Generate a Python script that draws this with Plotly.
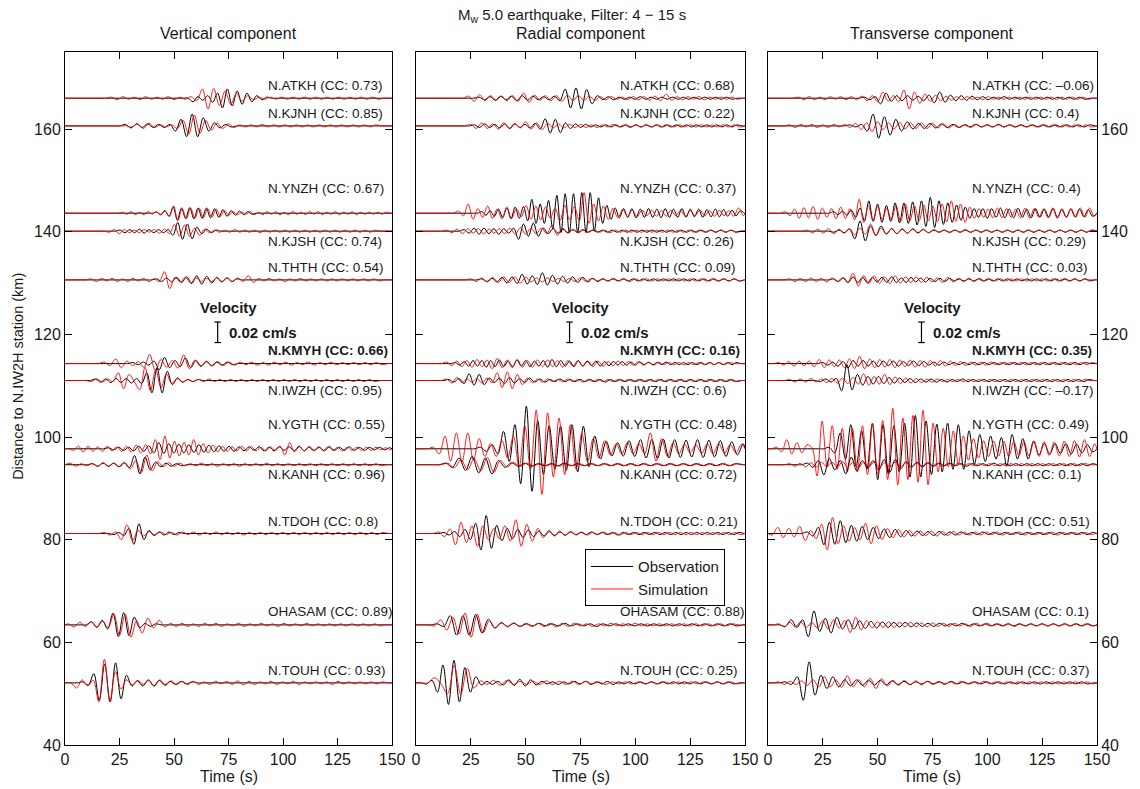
import plotly.graph_objects as go

# ---------------- data ----------------
STATIONS = ["N.ATKH", "N.KJNH", "N.YNZH", "N.KJSH", "N.THTH", "N.KMYH",
            "N.IWZH", "N.YGTH", "N.KANH", "N.TDOH", "OHASAM", "N.TOUH"]
DISTANCE_KM = [166.0, 160.6, 143.6, 140.1, 130.6, 114.3, 111.0, 97.7, 94.6, 81.2, 63.4, 52.1]
LABEL_Y = [168.4, 163.0, 148.5, 138.0, 133.0, 116.8, 109.0, 102.5, 92.7, 83.5, 66.0, 54.6]
BOLD_STATION = "N.KMYH"
CC_VERTICAL = ["0.73", "0.85", "0.67", "0.74", "0.54", "0.66", "0.95", "0.55", "0.96", "0.8", "0.89", "0.93"]
CC_RADIAL = ["0.68", "0.22", "0.37", "0.26", "0.09", "0.16", "0.6", "0.48", "0.72", "0.21", "0.88", "0.25"]
CC_TRANSVERSE = ["–0.06", "0.4", "0.4", "0.29", "0.03", "0.35", "–0.17", "0.49", "0.1", "0.51", "0.1", "0.37"]
COMPONENTS = ["Vertical component", "Radial component", "Transverse component"]
TIME_TICKS = [0, 25, 50, 75, 100, 125, 150]
DIST_TICKS = [40, 60, 80, 100, 120, 140, 160]
LABEL_TIME = 92
BAR_TIME, BAR_LOW, BAR_HIGH, BAR_CAP = 70, 118.4, 122.4, 1.5
VEL_TEXT_TIME, VEL_TEXT_Y, SCALE_TEXT_TIME, SCALE_TEXT_Y = 75, 125.3, 74.5, 120.3

# Each waveform: (time of first read extremum [s], spacing of extrema [s], extremum offsets [km units])
VERT_OBS = [
    (58.7, 2.25, [-0.7,0.3,-0.4,0.5,-0.8,1.0,-1.9,1.8,-1.5,1.4,-1.2,1.0,-0.7,0.5,-0.3,0.2]),
    (27.7, 2.55, [0.3,-0.4,0.4,-0.3,0.4,-0.3,0.3,-0.3,0.3,-1.0,1.3,-2.1,2.3,-2.1,1.6,-1.0,0.6,-0.4,0.3,-0.2]),
    (42.0, 1.9, [0.2,-0.3,0.5,-0.6,1.2,-1.3,1.0,-1.0,1.1,-1.1,1.0,-1.0,1.0,-0.9,0.9,-0.8,0.7,-0.6,0.5,-0.4,0.4,-0.3,0.3,-0.2]),
    (25.3, 2.2, [0.2,-0.3,0.3,-0.3,0.4,-0.4,0.3,-0.3,0.3,-0.3,0.3,-0.8,1.7,-1.6,1.4,-1.5,0.8,-0.5,0.4,-0.3,0.2]),
    (42.0, 2.3, [0.2,-0.3,0.4,-0.4,0.5,-0.5,0.6,-0.7,0.8,-0.8,0.7,-0.6,0.5,-0.4,0.4,-0.3,0.2]),
    (31.2, 2.4, [0.2,-0.2,0.3,-0.3,0.5,-1.2,1.2,-0.8,0.6,-0.6,1.1,-0.8,0.6,-0.5,0.4,-0.4,0.3,-0.3,0.3,-0.2]),
    (14.0, 2.35, [0.3,-0.3,0.3,-0.4,0.4,-0.4,0.4,-0.5,0.4,-0.6,1.5,-2.4,2.5,-2.4,1.8,-0.8,0.5,-0.3,0.2,-0.2,0.2]),
    (20.0, 2.3, [0.2,-0.2,0.3,-0.3,0.3,-0.4,0.5,-0.5,0.6,-0.8,1.2,-0.9,1.0,-0.8,0.9,-0.8,0.8,-0.7,0.8,-0.7,0.7,-0.6,0.6,-0.5,0.5,-0.5,0.4,-0.4,0.4,-0.3,0.4,-0.4,0.3,-0.4,0.4,-0.3,0.4,-0.4,0.5,-0.4,0.4,-0.3,0.3,-0.4,0.4,-0.3,0.3,-0.3,0.4,-0.3,0.3,-0.3,0.3,-0.2,0.3,-0.2,0.2]),
    (12.7, 2.4, [0.2,-0.3,0.3,-0.3,0.3,-0.4,0.4,-0.6,1.8,-1.8,1.5,-1.0,0.5,-0.4,0.3,-0.3,0.2,-0.2]),
    (22.4, 2.3, [-0.2,0.2,-0.4,1.0,-2.1,1.9,-1.2,0.6,-0.4,0.3,-0.3,0.3,-0.2,0.2]),
    (12.2, 2.45, [0.6,-0.5,0.9,-0.8,2.3,-2.3,2.4,-2.1,1.5,-0.6,0.3,-0.3,0.2]),
    (8.2, 2.5, [0.2,-0.4,1.8,-3.4,3.7,-3.7,3.9,-3.1,1.5,-0.6,0.4,-0.6,0.6,-0.6,0.5,-0.4,0.3,-0.3,0.3,-0.2,0.2]),
]
VERT_SIM = [
    (21.4, 2.6, [0.2,-0.3,0.3,-0.2,0.2,-0.3,0.3,-0.2,0.2,-0.2,0.3,-0.3,0.2,-0.2,0.3,-0.5,1.8,-2.1,1.9,-1.4,1.4,-1.2,0.9,-0.6,0.5,-0.3,0.2,-0.2,0.2,-0.2,0.2,-0.2,0.2,-0.2,0.2,-0.2,0.2,-0.2,0.2,-0.2,0.2,-0.2,0.2,-0.2,0.2,-0.2,0.2,-0.2]),
    (30.7, 2.6, [-0.2,0.4,-0.5,0.5,-0.3,0.2,-0.2,0.2,-0.5,1.1,-1.6,2.1,-1.4,1.1,-0.8,0.6,-0.5,0.4,-0.3,0.2,-0.2,0.2,-0.2,0.3,-0.2,0.2,-0.2,0.2,-0.2,0.2,-0.2,0.2,-0.2,0.2,-0.2,0.2,-0.2,0.2,-0.2,0.2,-0.2,0.2,-0.2,0.2]),
    (26.4, 1.95, [0.2,-0.2,0.3,-0.3,0.2,-0.3,0.3,-0.2,0.3,-0.3,0.4,-0.6,1.4,-1.5,0.9,-1.1,1.0,-1.0,1.0,-0.9,0.9,-0.8,0.8,-0.6,0.5,-0.4,0.3,-0.3,0.2,-0.2,0.3,-0.3,0.2,-0.3,0.3,-0.2,0.3,-0.3,0.2,-0.3,0.3,-0.2,0.2,-0.3,0.3,-0.2,0.3,-0.3,0.2,-0.2,0.3,-0.3,0.2,-0.2,0.3,-0.3,0.2,-0.2,0.2,-0.2,0.2,-0.2,0.2]),
    (20.3, 2.3, [-0.2,0.3,-0.5,0.3,-0.3,0.2,-0.3,0.3,-0.2,0.3,-0.4,0.4,-0.5,1.3,-1.0,1.2,-1.0,0.6,-0.8,0.4,-0.3,0.2,-0.2,0.2,-0.2,0.3,-0.2,0.2,-0.2,0.2,-0.3,0.2,-0.2,0.2,-0.2,0.2,-0.2,0.2,-0.2,0.2,-0.2,0.2,-0.2,0.2,-0.2,0.2,-0.2,0.2,-0.2,0.2,-0.2,0.2,-0.2,0.2]),
    (12.0, 2.4, [0.2,-0.3,0.3,-0.2,0.3,-0.3,0.2,-0.3,0.3,-0.2,0.3,-0.3,0.2,-0.3,1.6,-1.7,0.5,-0.4,0.5,-0.6,0.4,-0.3,0.3,-0.3,0.4,-0.3,0.4,-0.3,0.4,-0.3,0.8,-0.5,0.3,-0.2,0.3,-0.2,0.2,-0.3,0.2,-0.2,0.3,-0.2,0.2,-0.2,0.2,-0.2,0.2,-0.2,0.2,-0.2,0.2,-0.2,0.2,-0.2,0.2,-0.2]),
    (18.0, 2.6, [0.3,-0.4,0.9,-0.8,0.5,-0.4,0.4,-0.7,1.8,-1.3,0.8,-0.7,0.6,-0.9,1.7,-1.0,0.7,-0.6,0.5,-0.5,0.4,-0.4,0.3,-0.3,0.3,-0.2,0.3,-0.3,0.2,-0.3,0.3,-0.2,0.3,-0.3,0.2,-0.2,0.3,-0.3,0.2,-0.2,0.3,-0.2,0.2,-0.2,0.2,-0.2,0.2,-0.2,0.2,-0.2]),
    (12.2, 2.45, [-0.2,0.3,-0.3,0.3,-0.2,1.5,-1.6,1.2,-0.2,-1.8,2.6,-2.0,2.1,-1.4,1.3,-0.6,0.4,-0.3,0.2,-0.2,0.2,-0.2,0.3,-0.2,0.2,-0.2,0.2,-0.2,0.2,-0.2,0.2,-0.2,0.2,-0.2,0.2,-0.2,0.2,-0.2,0.2,-0.2,0.2,-0.2,0.2,-0.2,0.2,-0.2,0.2,-0.2,0.2,-0.2,0.2,-0.2,0.2,-0.2]),
    (4.0, 2.2, [-0.3,0.5,-0.6,0.5,-0.5,0.4,-0.5,0.5,-0.4,0.4,-0.5,0.5,-0.6,0.7,-0.8,0.8,-1.0,1.8,-2.1,2.5,-1.8,1.5,-1.4,1.3,-1.2,1.8,-1.2,1.0,-0.8,0.7,-0.6,0.5,-0.5,0.4,-0.4,0.5,-0.4,0.4,-0.4,0.3,-0.4,0.4,-0.3,0.5,-1.2,1.2,-0.6,0.4,-0.4,0.3,-0.4,0.4,-0.3,0.4,-0.3,0.3,-0.4,0.3,-0.3,0.3,-0.3,0.3,-0.3,0.3,-0.2,0.2,-0.2]),
    (2.5, 2.5, [0.3,-0.3,0.2,-0.2,0.2,-0.3,0.4,-0.3,0.3,-0.4,0.4,-0.8,0.8,-1.5,1.9,-1.2,0.6,-0.4,0.4,-0.3,0.3,-0.2,0.2,-0.2,0.3,-0.2,0.2,-0.3,0.2,-0.2,0.2,-0.3,0.2,-0.2,0.2,-0.2,0.3,-0.2,0.2,-0.2,0.2,-0.2,0.2,-0.2,0.2,-0.2,0.2,-0.2,0.2,-0.2,0.2,-0.2,0.2,-0.2,0.2,-0.2,0.2,-0.2]),
    (18.2, 2.55, [0.2,-0.3,0.3,-1.2,1.7,-1.4,0.6,-0.5,0.4,-0.3,0.3,-0.2,0.2,-0.3,0.3,-0.2,0.3,-0.3,0.2,-0.2,0.3,-0.2,0.2,-0.2,0.2,-0.3,0.2,-0.2,0.2,-0.2,0.2,-0.2,0.2,-0.2,0.2,-0.2,0.2,-0.2,0.2,-0.2,0.2,-0.2,0.2,-0.2,0.2,-0.2,0.2,-0.2,0.2,-0.2,0.2]),
    (1.6, 2.6, [0.2,-0.4,0.5,-0.3,0.6,-0.4,0.7,-0.5,2.1,-2.0,2.1,-2.4,0.8,-1.6,1.3,-0.6,0.9,-0.4,0.3,-0.3,0.3,-0.3,0.2,-0.3,0.3,-0.2,0.3,-0.3,0.2,-0.2,0.3,-0.3,0.2,-0.2,0.3,-0.2,0.2,-0.3,0.3,-0.2,0.2,-0.2,0.3,-0.2,0.2,-0.2,0.2,-0.2,0.2,-0.2,0.2,-0.2,0.2,-0.2,0.2,-0.2]),
    (5.3, 2.55, [-1.0,0.6,-0.6,0.5,-3.7,4.6,-3.7,2.2,-1.2,0.6,-0.4,0.5,-0.3,0.5,-0.6,0.6,-0.5,0.4,-0.3,0.3,-0.3,0.3,-0.3,0.2,-0.3,0.3,-0.2,0.3,-0.3,0.4,-0.4,0.3,-0.3,0.2,-0.2,0.3,-0.3,0.2,-0.2,0.3,-0.3,0.2,-0.2,0.2,-0.2,0.2,-0.3,0.3,-0.2,0.2,-0.2,0.2,-0.2,0.2,-0.2,0.2]),
]
RAD_OBS = [
    (28.8, 2.45, [0.2,-0.3,0.3,-0.4,0.4,-0.3,0.4,-0.5,0.5,-0.4,0.4,-0.3,0.3,-0.3,0.4,-0.5,1.8,-1.9,2.0,-2.1,1.7,-1.1,0.5,-0.3,0.3,-0.3,0.2,-0.2,0.2,-0.2,0.3,-0.2,0.2,-0.2,0.2,-0.2,0.2,-0.2,0.2,-0.2,0.2,-0.2,0.2,-0.2,0.2,-0.2,0.2,-0.2]),
    (26.7, 2.3, [0.2,-0.3,0.4,-0.3,0.3,-0.4,0.4,-0.5,0.4,-0.3,0.3,-0.4,0.5,-0.6,1.4,-1.4,1.3,-1.3,0.6,-0.5,0.4,-0.3,0.3,-0.2,0.2,-0.2,0.2,-0.2,0.2,-0.2,0.2,-0.2,0.2,-0.2,0.2,-0.2,0.2,-0.2,0.2,-0.2,0.2,-0.2,0.2,-0.2,0.2,-0.2,0.2,-0.2,0.2,-0.2,0.2,-0.2,0.2]),
    (30.0, 1.9, [0.3,-0.4,0.5,-0.6,0.8,-0.8,1.0,-1.1,1.2,-1.0,1.3,-1.5,2.7,-2.0,1.8,-2.0,2.5,-3.0,3.5,-3.8,3.8,-3.8,3.8,-3.8,4.0,-3.8,4.0,-3.5,3.0,-2.0,1.5,-1.2,1.0,-0.9,0.9,-0.8,0.9,-0.9,0.8,-0.8,0.9,-0.8,0.8,-0.9,0.9,-0.8,0.8,-0.8,0.9,-0.8,0.8,-0.7,0.8,-0.8,0.7,-0.7,0.8,-0.7,0.7,-0.6,0.6,-0.5,0.5]),
    (22.0, 2.25, [0.3,-0.4,0.6,-0.6,0.6,-0.5,0.5,-0.6,0.5,-0.4,0.6,-1.6,1.4,-1.0,1.6,-1.0,0.6,-0.5,0.5,-0.4,0.4,-0.3,0.3,-0.3,0.3,-0.2,0.2,-0.2,0.2,-0.2,0.2,-0.2,0.2,-0.2,0.2,-0.2,0.2,-0.2,0.2,-0.2,0.2,-0.2,0.2,-0.2,0.2,-0.2,0.2,-0.2,0.2,-0.2,0.2,-0.2,0.2,-0.2,0.2,-0.2]),
    (30.0, 2.3, [0.2,-0.3,0.3,-0.4,0.5,-0.6,0.6,-0.7,1.1,-0.8,0.8,-0.9,1.4,-1.0,0.9,-0.8,0.7,-0.6,0.6,-0.5,0.5,-0.4,0.3,-0.3,0.2,-0.2,0.2,-0.2,0.2,-0.2,0.2,-0.2,0.2,-0.2,0.2,-0.2,0.2,-0.2,0.2,-0.2,0.2,-0.2,0.2,-0.2,0.2,-0.2,0.2,-0.2,0.2,-0.2,0.2,-0.2]),
    (18.0, 2.0, [0.2,-0.3,0.4,-0.5,0.6,-0.5,0.6,-0.7,0.6,-0.6,0.7,-0.6,0.5,-0.6,0.7,-0.5,0.6,-0.6,0.5,-0.5,0.6,-0.7,0.8,-0.6,0.6,-0.5,0.5,-0.6,0.6,-0.5,0.5,-0.4,0.5,-0.5,0.4,-0.4,0.4,-0.3,0.4,-0.3,0.3,-0.3,0.3,-0.2,0.2,-0.2,0.2,-0.2,0.3,-0.2,0.2,-0.2,0.2,-0.2,0.2,-0.2,0.2,-0.2,0.2,-0.2,0.2,-0.2,0.2,-0.2,0.2]),
    (15.0, 2.3, [0.2,-0.3,0.4,-0.6,1.3,-0.9,1.2,-0.8,0.5,-0.4,0.5,-0.6,0.6,-0.5,0.4,-0.4,0.5,-0.3,0.3,-0.3,0.2,-0.2,0.3,-0.2,0.2,-0.2,0.2,-0.2,0.2,-0.2,0.2,-0.3,0.2,-0.2,0.2,-0.2,0.2,-0.2,0.2,-0.2,0.2,-0.2,0.2,-0.2,0.2,-0.2,0.2,-0.2,0.2,-0.2,0.2,-0.2,0.2,-0.2,0.2,-0.2,0.2,-0.2]),
    (29.5, 2.6, [0.3,-0.5,0.8,-1.0,3.4,-2.5,4.7,-6.8,8.3,-8.3,5.5,-5.0,4.5,-4.0,4.4,-4.2,4.7,-4.5,4.4,-3.5,2.5,-2.0,1.5,-1.4,1.2,-1.4,1.6,-1.5,1.8,-1.8,1.8,-1.9,1.9,-1.8,1.8,-1.7,1.7,-1.6,1.8,-1.7,1.7,-1.6,1.6,-1.5,1.4,-1.2,1.0]),
    (13.6, 3.0, [0.3,-0.5,1.3,-1.1,1.6,-1.6,1.3,-1.8,0.8,-0.5,0.4,-0.3,0.3,-0.3,0.2,-0.2,0.2,-0.2,0.3,-0.2,0.2,-0.2,0.2,-0.2,0.2,-0.2,0.2,-0.2,0.2,-0.2,0.2,-0.2,0.2,-0.2,0.2,-0.2,0.2,-0.2,0.2,-0.2,0.2,-0.2,0.2,-0.2,0.2]),
    (12.8, 2.4, [0.2,-0.3,0.4,-0.6,0.8,-1.2,2.0,-3.2,3.5,-2.9,1.6,-1.4,1.0,-1.0,0.8,-0.8,0.7,-0.6,0.5,-0.5,0.4,-0.4,0.3,-0.3,0.3,-0.2,0.2,-0.2,0.3,-0.2,0.2,-0.2,0.2,-0.3,0.2,-0.2,0.2,-0.2,0.2,-0.2,0.2,-0.2,0.2,-0.2,0.2,-0.2,0.2,-0.2,0.2,-0.2,0.2,-0.2,0.2,-0.2,0.2,-0.2,0.2]),
    (9.8, 2.9, [0.2,-0.3,1.8,-2.0,1.8,-2.0,2.0,-1.6,1.1,-0.6,0.4,-0.3,0.3,-0.3,0.2,-0.2,0.3,-0.2,0.2,-0.2,0.3,-0.2,0.2,-0.2,0.2,-0.3,0.2,-0.2,0.2,-0.2,0.2,-0.2,0.2,-0.2,0.2,-0.2,0.2,-0.2,0.2,-0.2,0.2,-0.2,0.2,-0.2,0.2,-0.2,0.2,-0.2]),
    (4.8, 2.5, [-0.2,0.5,-1.8,3.5,-4.2,4.4,-3.7,3.0,-1.8,1.2,-0.4,0.3,-0.3,0.3,-0.4,0.6,-0.5,0.7,-0.6,0.6,-0.4,0.3,-0.2,0.2,-0.3,0.2,-0.2,0.3,-0.2,0.3,-0.3,0.2,-0.2,0.3,-0.3,0.2,-0.2,0.2,-0.2,0.2,-0.2,0.2,-0.2,0.2,-0.2,0.2,-0.2,0.2,-0.2,0.2,-0.2,0.2,-0.2,0.2,-0.2,0.2,-0.2]),
]
RAD_SIM = [
    (24.0, 2.5, [0.4,-0.6,0.7,-0.5,0.5,-0.4,0.4,-0.5,0.5,-0.6,1.0,-0.8,0.6,-0.4,0.5,-0.5,0.5,-0.6,0.6,-0.5,0.5,-0.4,0.4,-0.4,0.3,-0.3,0.3,-0.2,0.2,-0.3,0.3,-0.3,0.3,-0.4,0.4,-0.5,0.8,-0.4,0.3,-0.3,0.3,-0.2,0.3,-0.3,0.2,-0.2,0.2,-0.2,0.2,-0.2]),
    (25.0, 2.5, [0.3,-0.5,0.6,-0.5,0.4,-0.6,0.6,-0.5,0.5,-0.4,0.8,-0.6,0.6,-0.7,0.5,-0.4,0.4,-0.4,0.3,-0.3,0.3,-0.3,0.2,-0.3,0.2,-0.2,0.3,-0.2,0.2,-0.3,0.2,-0.2,0.2,-0.2,0.2,-0.2,0.2,-0.2,0.2,-0.2,0.2,-0.2,0.2,-0.2,0.2,-0.2,0.2,-0.2,0.2,-0.2]),
    (19.4, 2.2, [0.4,-0.5,1.8,-1.2,0.9,-0.8,1.4,-1.0,0.8,-1.1,1.2,-1.0,0.8,-0.7,1.5,-1.2,1.4,-1.3,1.2,-1.0,1.0,-1.5,1.5,-1.3,1.3,-1.5,4.0,-2.0,1.8,-1.5,1.4,-1.2,1.0,-0.9,0.7,-0.6,0.6,-0.7,0.6,-0.5,0.6,-0.6,0.5,-0.6,0.6,-0.5,0.6,-0.6,0.5,-0.5,0.6,-0.5,0.5,-0.6,0.6,-0.5,0.5,-0.6,1.0,-0.5]),
    (14.0, 2.4, [0.2,-0.3,0.4,-0.5,0.5,-0.4,0.5,-0.5,0.4,-0.4,0.5,-0.5,0.6,-0.6,0.7,-0.6,0.6,-0.5,0.6,-0.5,1.2,-0.8,0.6,-0.4,0.3,-0.3,0.2,-0.2,0.3,-0.2,0.2,-0.3,0.2,-0.2,0.2,-0.2,0.2,-0.2,0.2,-0.2,0.2,-0.2,0.2,-0.2,0.2,-0.2,0.2,-0.2,0.2,-0.2,0.2,-0.2,0.2,-0.2,0.2,-0.2]),
    (25.0, 2.5, [0.2,-0.3,0.4,-0.4,0.5,-0.5,0.6,-0.5,0.6,-0.6,0.5,-0.4,0.4,-0.4,0.4,-0.3,0.3,-0.3,0.3,-0.3,0.4,-0.3,0.3,-0.2,0.2,-0.2,0.3,-0.2,0.2,-0.3,0.2,-0.2,0.2,-0.2,0.2,-0.2,0.2,-0.2,0.2,-0.2,0.2,-0.2,0.2,-0.2,0.2,-0.2,0.2,-0.2,0.2,-0.2]),
    (14.0, 2.3, [0.3,-0.4,0.5,-0.6,0.6,-0.7,0.8,-0.6,0.7,-1.0,1.0,-0.8,0.7,-0.8,0.8,-0.7,0.6,-0.7,0.7,-0.6,0.7,-0.6,0.6,-0.7,0.6,-0.5,0.6,-0.5,0.5,-0.6,0.5,-0.5,0.4,-0.4,0.5,-0.4,0.4,-0.3,0.4,-0.3,0.3,-0.3,0.3,-0.2,0.2,-0.2,0.2,-0.2,0.2,-0.2,0.2,-0.2,0.2,-0.2,0.2,-0.2,0.2]),
    (14.0, 2.3, [0.3,-0.5,0.6,-0.4,0.3,-0.3,0.4,-0.5,0.5,-0.4,1.5,-1.4,1.7,-1.6,1.2,-0.8,0.5,-0.4,0.3,-0.3,0.3,-0.2,0.2,-0.2,0.3,-0.2,0.2,-0.3,0.2,-0.2,0.2,-0.2,0.2,-0.2,0.2,-0.2,0.2,-0.2,0.2,-0.2,0.2,-0.2,0.2,-0.2,0.2,-0.2,0.2,-0.2,0.2,-0.2,0.2,-0.2,0.2,-0.2,0.2,-0.2,0.2,-0.2]),
    (8.0, 2.6, [0.3,-1.0,2.5,-2.4,3.1,-2.6,3.1,-2.2,2.0,-1.5,1.0,-1.5,1.6,-1.8,2.5,-3.5,4.5,-4.0,7.5,-8.9,7.0,-5.5,6.0,-5.0,4.7,-4.0,3.0,-2.5,2.0,-1.8,1.6,-1.2,1.0,-1.0,1.2,-1.0,1.0,-1.0,3.1,-2.4,2.0,-1.5,1.2,-1.0,0.9,-0.8,0.8,-0.9,1.0,-1.0,1.0,-0.9,0.8,-0.8,0.9]),
    (14.5, 3.0, [0.3,-0.6,1.0,-1.0,1.2,-1.2,1.4,-1.5,0.8,-0.4,0.4,-0.3,0.3,-0.2,0.2,-0.2,0.2,-0.3,0.2,-0.2,0.2,-0.2,0.2,-0.2,0.2,-0.2,0.2,-0.2,0.2,-0.2,0.2,-0.2,0.2,-0.2,0.2,-0.2,0.2,-0.2,0.2,-0.2,0.2,-0.2,0.2,-0.2,0.2]),
    (10.5, 2.5, [0.3,-0.6,0.9,-2.2,2.2,-1.8,1.5,-2.5,1.5,-1.2,1.0,-1.0,1.5,-1.5,2.7,-2.5,1.8,-1.5,1.0,-0.8,0.6,-0.5,0.5,-0.4,0.4,-0.3,0.3,-0.3,0.2,-0.2,0.3,-0.2,0.2,-0.3,0.2,-0.2,0.2,-0.2,0.2,-0.2,0.2,-0.2,0.2,-0.2,0.2,-0.2,0.2,-0.2,0.2,-0.2,0.2,-0.2,0.2,-0.2,0.2,-0.2]),
    (8.5, 2.77, [-0.2,1.0,-1.0,1.5,-1.8,2.3,-2.4,2.1,-1.5,0.8,-0.6,0.5,-0.4,0.4,-0.3,0.3,-0.3,0.3,-0.3,0.3,-0.4,0.3,-0.3,0.3,-0.2,0.2,-0.3,0.2,-0.2,0.3,-0.2,0.2,-0.2,0.3,-0.2,0.2,-0.2,0.2,-0.2,0.2,-0.2,0.2,-0.2,0.2,-0.2,0.2,-0.2,0.2,-0.2,0.2]),
    (8.4, 3.0, [1.0,-0.2,-2.1,3.4,-2.2,2.8,-1.0,0.4,-0.3,0.5,-0.5,0.5,-0.3,0.3,-0.3,0.3,-0.3,0.4,-0.3,0.3,-0.3,0.3,-0.3,0.3,-0.2,0.2,-0.3,0.2,-0.2,0.2,-0.2,0.2,-0.2,0.2,-0.2,0.2,-0.2,0.2,-0.2,0.2,-0.2,0.2,-0.2,0.2,-0.2,0.2,-0.2]),
]
TRANS_OBS = [
    (44.0, 2.45, [0.2,-0.3,0.3,-1.1,1.0,-0.6,0.5,-0.5,0.5,-0.4,0.4,-0.5,0.6,-0.9,1.2,-0.8,0.6,-0.5,0.5,-0.4,0.4,-0.3,0.3,-0.3,0.2,-0.2,0.3,-0.2,0.2,-0.2,0.2,-0.2,0.2,-0.2,0.2,-0.2,0.2,-0.2,0.2,-0.2,0.2,-0.2]),
    (37.5, 2.6, [0.2,-0.2,0.3,-1.0,2.3,-2.4,1.8,-1.8,1.3,-1.0,0.8,-0.6,0.5,-0.5,0.5,-0.4,0.4,-0.3,0.3,-0.3,0.2,-0.2,0.3,-0.2,0.2,-0.2,0.3,-0.2,0.2,-0.2,0.2,-0.2,0.2,-0.2,0.2,-0.2,0.2,-0.2,0.2,-0.2,0.2,-0.2,0.2]),
    (30.0, 2.0, [0.3,-0.3,0.4,-0.4,0.6,-0.8,1.0,-1.5,2.4,-1.6,1.8,-1.8,1.5,-1.6,2.0,-1.9,2.0,-2.0,2.2,-2.3,2.4,-2.6,3.1,-2.8,2.4,-2.2,2.0,-1.8,1.6,-1.4,1.2,-1.0,0.9,-0.8,0.9,-1.0,0.9,-0.8,1.0,-0.9,0.8,-0.9,1.0,-0.8,0.8,-0.9,0.9,-0.8,0.8,-0.8,0.9,-0.8,0.7,-0.8,0.8,-0.7,0.8,-0.7,0.7,-0.6]),
    (30.0, 2.4, [-0.2,0.2,-0.3,0.4,-1.5,2.0,-1.9,1.0,-0.8,1.0,-0.6,0.5,-0.5,0.4,-0.4,0.4,-0.3,0.3,-0.3,0.2,-0.2,0.2,-0.2,0.2,-0.2,0.2,-0.2,0.2,-0.2,0.2,-0.2,0.2,-0.2,0.2,-0.2,0.2,-0.2,0.2,-0.2,0.2,-0.2,0.2,-0.2,0.2,-0.2,0.2,-0.2,0.2,-0.2,0.2]),
    (30.0, 2.2, [0.2,-0.3,0.4,-0.5,0.6,-0.5,0.5,-0.6,0.5,-0.4,0.5,-0.5,0.6,-0.5,0.4,-0.5,0.5,-0.4,0.4,-0.4,0.3,-0.3,0.3,-0.3,0.3,-0.2,0.2,-0.2,0.2,-0.2,0.2,-0.2,0.2,-0.2,0.2,-0.2,0.2,-0.2,0.2,-0.2,0.2,-0.2,0.2,-0.2,0.2,-0.2,0.2,-0.2,0.2,-0.2,0.2,-0.2,0.2,-0.2]),
    (25.0, 2.3, [0.2,-0.3,0.3,-0.5,0.4,-0.8,0.6,-0.5,0.6,-0.5,0.5,-0.6,0.5,-0.4,0.5,-0.5,0.4,-0.4,0.5,-0.4,0.4,-0.3,0.3,-0.3,0.3,-0.2,0.2,-0.2,0.2,-0.2,0.2,-0.2,0.2,-0.2,0.2,-0.2,0.2,-0.2,0.2,-0.2,0.2,-0.2,0.2,-0.2,0.2,-0.2,0.2,-0.2,0.2,-0.2,0.2,-0.2,0.2]),
    (24.0, 2.4, [-0.2,0.3,-0.3,0.4,-2.0,3.1,-1.8,1.2,-0.9,0.8,-0.7,0.8,-0.6,0.6,-0.5,0.5,-0.4,0.4,-0.4,0.3,-0.3,0.3,-0.3,0.2,-0.3,0.2,-0.2,0.3,-0.2,0.2,-0.2,0.2,-0.2,0.2,-0.2,0.2,-0.2,0.2,-0.2,0.2,-0.2,0.2,-0.2,0.2,-0.2,0.2,-0.2,0.2,-0.2,0.2,-0.2,0.2]),
    (28.0, 2.45, [0.3,-0.8,3.1,-2.0,4.7,-3.5,3.5,-4.0,4.9,-6.0,4.7,-5.0,4.5,-4.5,5.0,-5.5,6.5,-5.5,5.4,-5.0,4.8,-4.5,5.0,-4.0,4.7,-4.0,3.5,-3.0,2.8,-2.5,2.5,-2.0,2.2,-3.4,2.8,-2.0,2.0,-2.0,1.5,-1.2,1.0,-1.0,1.0,-0.9,1.0,-1.0,0.9,-0.8,0.8,-0.6,0.4]),
    (18.0, 2.5, [0.3,-0.5,0.8,-2.0,1.2,-1.0,0.8,-1.8,1.5,-1.2,0.8,-0.6,0.8,-1.0,1.0,-1.5,1.0,-0.8,0.6,-0.5,0.5,-0.4,0.4,-0.3,0.3,-0.2,0.3,-0.2,0.2,-0.3,0.2,-0.2,0.2,-0.2,0.3,-0.2,0.2,-0.2,0.2,-0.2,0.2,-0.2,0.2,-0.2,0.2,-0.2,0.2,-0.2,0.2,-0.2,0.2,-0.2,0.2]),
    (18.0, 2.5, [0.3,-0.5,1.2,-2.2,2.2,-2.1,2.5,-1.8,1.6,-1.5,1.4,-1.2,1.2,-1.0,0.9,-0.8,0.8,-0.6,0.6,-0.5,0.5,-0.4,0.4,-0.4,0.4,-0.3,0.3,-0.3,0.3,-0.2,0.2,-0.2,0.3,-0.2,0.2,-0.2,0.2,-0.2,0.2,-0.2,0.2,-0.2,0.2,-0.2,0.2,-0.2,0.2,-0.2,0.2,-0.2,0.2,-0.2,0.2]),
    (8.0, 2.6, [-0.3,1.0,-0.5,1.0,-2.3,2.7,-1.3,1.3,-1.6,1.5,-0.8,1.0,-0.8,0.8,-0.7,0.7,-0.6,0.6,-0.5,0.5,-0.4,0.5,-0.4,0.4,-0.3,0.3,-0.3,0.3,-0.2,0.2,-0.2,0.3,-0.2,0.2,-0.2,0.2,-0.2,0.2,-0.2,0.2,-0.2,0.2,-0.2,0.2,-0.2,0.2,-0.2,0.2,-0.2,0.2,-0.2,0.2,-0.2,0.2,-0.2]),
    (8.0, 2.7, [0.2,-0.3,1.2,-3.4,4.1,-2.4,1.5,-1.1,1.2,-0.8,0.6,-0.6,0.6,-0.5,0.5,-0.4,0.5,-0.4,0.4,-0.3,0.3,-0.3,0.2,-0.2,0.3,-0.2,0.2,-0.2,0.3,-0.2,0.2,-0.2,0.2,-0.2,0.2,-0.2,0.2,-0.2,0.2,-0.2,0.2,-0.2,0.2,-0.2,0.2,-0.2,0.2,-0.2,0.2,-0.2,0.2,-0.2]),
]
TRANS_SIM = [
    (14.0, 2.4, [0.2,-0.3,0.3,-0.3,0.2,-0.3,0.3,-0.2,0.3,-0.3,0.3,-0.3,0.4,-0.5,0.5,-0.7,1.2,-0.6,0.5,-0.7,1.6,-2.1,1.2,-1.0,0.8,-0.6,0.6,-0.5,0.4,-0.4,0.3,-0.3,0.3,-0.2,0.2,-0.3,0.3,-0.2,0.2,-0.2,0.2,-0.2,0.2,-0.2,0.2,-0.2,0.2,-0.2,0.2,-0.2,0.2,-0.2,0.2,-0.2,0.2,-0.2]),
    (10.0, 2.5, [0.2,-0.3,0.3,-0.2,0.3,-0.3,0.2,-0.3,0.3,-0.2,0.3,-0.3,0.5,-0.7,0.6,-1.1,0.8,-0.7,0.6,-0.6,0.7,-0.6,0.6,-0.5,0.6,-0.5,0.5,-0.4,0.4,-0.4,0.3,-0.3,0.3,-0.3,0.3,-0.2,0.2,-0.2,0.2,-0.2,0.2,-0.2,0.2,-0.2,0.2,-0.2,0.2,-0.2,0.2,-0.2,0.2,-0.2,0.2,-0.2,0.2,-0.2]),
    (8.0, 2.1, [0.3,-0.5,0.8,-1.0,1.1,-0.9,1.3,-1.2,1.0,-0.8,0.9,-1.1,1.2,-1.0,0.9,-1.3,2.7,-1.8,1.5,-1.4,1.3,-1.2,1.0,-1.3,1.5,-1.6,1.8,-1.5,1.4,-1.5,1.6,-1.5,1.4,-1.6,1.8,-1.7,2.4,-1.6,1.8,-1.8,1.2,-1.0,0.9,-0.8,0.8,-0.9,1.0,-0.9,0.9,-0.8,0.8,-0.9,1.0,-1.0,0.9,-0.8,0.8,-0.9,1.0,-1.0,0.9,-0.8,0.9,-0.8,1.0,-0.8,1.0,-0.6]),
    (18.0, 2.4, [0.2,-0.3,0.4,-0.4,0.5,-0.5,0.4,-0.4,0.5,-0.7,0.6,-0.6,1.4,-0.9,0.6,-0.5,0.5,-0.5,0.5,-0.4,0.5,-0.4,0.4,-0.3,0.3,-0.2,0.2,-0.3,0.2,-0.2,0.3,-0.2,0.2,-0.2,0.2,-0.2,0.2,-0.2,0.2,-0.2,0.2,-0.2,0.2,-0.2,0.2,-0.2,0.2,-0.2,0.2,-0.2,0.2,-0.2,0.2,-0.2,0.2]),
    (10.0, 2.4, [0.2,-0.3,0.3,-0.3,0.4,-0.3,0.3,-0.4,0.4,-0.3,0.4,-0.5,1.3,-1.2,0.8,-0.7,0.8,-0.7,0.6,-0.7,0.8,-0.6,0.6,-0.5,0.6,-0.5,0.5,-0.4,0.4,-0.5,0.5,-0.4,0.3,-0.3,0.3,-0.3,0.3,-0.2,0.2,-0.2,0.2,-0.2,0.2,-0.2,0.2,-0.2,0.2,-0.2,0.2,-0.2,0.2,-0.2,0.2,-0.2,0.2,-0.2,0.2]),
    (5.0, 2.3, [0.2,-0.3,0.4,-0.5,0.5,-0.4,0.5,-0.6,0.8,-0.8,0.7,-0.6,0.7,-0.8,0.9,-1.0,1.4,-1.0,0.9,-0.8,0.8,-0.7,0.8,-0.8,0.7,-0.6,0.7,-0.7,0.6,-0.7,0.6,-0.5,0.6,-0.5,0.5,-0.4,0.4,-0.4,0.3,-0.3,0.3,-0.3,0.3,-0.2,0.2,-0.2,0.2,-0.2,0.2,-0.2,0.2,-0.2,0.2,-0.2,0.2,-0.2,0.2,-0.2,0.2,-0.2,0.2,-0.2,0.2]),
    (10.0, 2.4, [0.2,-0.3,0.3,-0.3,0.4,-0.3,0.3,-0.4,0.4,-0.5,0.5,-0.6,0.6,-0.7,1.3,-0.9,0.8,-0.7,1.2,-0.8,0.7,-0.6,0.5,-0.5,0.4,-0.4,0.3,-0.3,0.3,-0.2,0.2,-0.2,0.2,-0.2,0.2,-0.2,0.2,-0.2,0.2,-0.2,0.2,-0.2,0.2,-0.2,0.2,-0.2,0.2,-0.2,0.2,-0.2,0.2,-0.2,0.2,-0.2,0.2,-0.2,0.2]),
    (4.0, 2.3, [0.3,-0.6,1.8,-1.0,1.2,-0.8,0.8,0.2,-5.3,5.4,-3.5,4.5,-4.0,4.0,-4.5,4.0,-4.5,4.5,-5.0,5.0,-5.0,5.5,-6.0,7.9,-7.0,6.0,-6.0,6.5,-6.5,7.5,-7.0,5.0,-4.5,4.0,-3.5,3.5,-3.0,2.5,-2.2,2.0,-1.8,1.6,-1.5,1.5,-1.4,1.5,-1.5,1.4,-1.3,1.4,-1.4,1.5,-1.5,1.4,-1.3,1.3,-1.4,1.5,-1.5,1.6,-1.6,1.8,-1.5,1.0]),
    (10.0, 2.4, [0.2,-0.3,0.3,-0.4,0.4,-0.5,0.5,-0.4,0.5,-0.5,0.6,-0.5,0.5,-0.6,0.5,-0.4,0.5,-0.5,0.4,-0.4,0.5,-0.4,0.4,-0.4,0.3,-0.4,0.4,-0.3,0.3,-0.3,0.3,-0.3,0.3,-0.2,0.2,-0.2,0.2,-0.2,0.2,-0.2,0.2,-0.2,0.2,-0.2,0.2,-0.2,0.2,-0.2,0.2,-0.2,0.2,-0.2,0.2,-0.2,0.2,-0.2,0.2]),
    (2.0, 2.5, [-0.3,1.2,-0.8,1.0,-0.7,1.4,-1.4,0.6,-1.0,1.8,-3.2,3.1,-2.0,1.5,-1.5,1.2,-1.2,2.0,-2.0,1.5,-1.2,1.0,-0.8,0.8,-0.7,0.6,-0.5,0.5,-0.4,0.5,-0.5,0.4,-0.4,0.4,-0.3,0.3,-0.3,0.3,-0.3,0.3,-0.2,0.3,-0.3,0.2,-0.2,0.3,-0.3,0.2,-0.2,0.2,-0.2,0.3,-0.3,0.2,-0.2,0.2,-0.2,0.2,-0.2]),
    (5.0, 2.5, [0.2,-0.4,0.5,-0.4,0.6,-0.5,0.5,-0.6,0.8,-0.8,1.0,-0.6,0.8,-1.5,1.5,-1.0,0.8,-0.6,0.6,-0.5,0.6,-0.5,0.5,-0.4,0.5,-0.4,0.4,-0.4,0.4,-0.3,0.3,-0.3,0.3,-0.2,0.2,-0.3,0.3,-0.2,0.3,-0.2,0.2,-0.2,0.2,-0.3,0.2,-0.2,0.2,-0.2,0.2,-0.2,0.2,-0.2,0.2,-0.2,0.2,-0.2,0.2,-0.2]),
    (5.0, 2.6, [0.2,-0.3,0.3,-0.3,0.4,-0.5,0.6,-0.8,1.2,-0.8,0.6,-0.9,1.4,-0.8,0.6,-0.8,0.9,-1.1,0.8,-0.6,0.5,-0.5,0.5,-0.4,0.4,-0.4,0.3,-0.3,0.3,-0.3,0.2,-0.2,0.3,-0.2,0.2,-0.2,0.3,-0.2,0.2,-0.2,0.2,-0.2,0.2,-0.2,0.2,-0.2,0.2,-0.2,0.2,-0.2,0.2,-0.2,0.2,-0.2,0.2,-0.2]),
]

# ---------------- figure ----------------
FONT = "Liberation Sans, Arial, Helvetica, sans-serif"
T_MAX = 150.0
DOMAINS = [[0.0, 0.3170], [0.3401, 0.6590], [0.6811, 1.0]]


def extrema_path(t0, h, amps):
    # quiet baseline before the first read extremum (anchored so the spline stays flat)
    ts, vs = [0.0], [0.0]
    for k in (2, 1):
        if t0 - k * h > 0:
            ts.append(t0 - k * h)
            vs.append(0.0)
    for i, a in enumerate(amps):
        t = t0 + i * h
        if t >= T_MAX:
            break
        ts.append(t)
        vs.append(a)
    for k in (1, 2):
        if ts[-1] + h < T_MAX:
            ts.append(ts[-1] + h)
            vs.append(0.0)
    ts.append(T_MAX)
    vs.append(0.0)
    return ts, vs


fig = go.Figure()
panels = [(VERT_OBS, VERT_SIM, CC_VERTICAL), (RAD_OBS, RAD_SIM, CC_RADIAL), (TRANS_OBS, TRANS_SIM, CC_TRANSVERSE)]
annotations = []
for p, (obs, sim, ccs) in enumerate(panels):
    xa = "x" if p == 0 else "x%d" % (p + 1)
    ya = "y" if p == 0 else "y%d" % (p + 1)
    for s, name in enumerate(STATIONS):
        base = DISTANCE_KM[s]
        for series, color, lname, w in ((obs, "black", "Observation", 1.0), (sim, "#ff0000", "Simulation", 0.9)):
            ts, vs = extrema_path(*series[s])
            fig.add_trace(go.Scatter(
                x=ts, y=[base + v for v in vs], mode="lines", xaxis=xa, yaxis=ya,
                line=dict(color=color, width=w, shape="spline", smoothing=1.0),
                name=lname, legendgroup=lname, showlegend=(p == 0 and s == 0),
                hoverinfo="skip"))
        txt = "%s (CC: %s)" % (name, ccs[s])
        if name == BOLD_STATION:
            txt = "<b>" + txt + "</b>"
        annotations.append(dict(x=LABEL_TIME, y=LABEL_Y[s], xref=xa, yref=ya, text=txt,
                                showarrow=False, xanchor="left", yanchor="middle",
                                font=dict(family=FONT, size=13.5, color="#1a1a1a")))
    # velocity scale bar
    fig.add_trace(go.Scatter(
        x=[BAR_TIME - BAR_CAP, BAR_TIME + BAR_CAP, None, BAR_TIME, BAR_TIME, None, BAR_TIME - BAR_CAP, BAR_TIME + BAR_CAP],
        y=[BAR_LOW, BAR_LOW, None, BAR_LOW, BAR_HIGH, None, BAR_HIGH, BAR_HIGH],
        mode="lines", line=dict(color="black", width=1.2), xaxis=xa, yaxis=ya,
        showlegend=False, hoverinfo="skip"))
    annotations.append(dict(x=VEL_TEXT_TIME, y=VEL_TEXT_Y, xref=xa, yref=ya, text="<b>Velocity</b>",
                            showarrow=False, xanchor="center", yanchor="middle",
                            font=dict(family=FONT, size=15, color="#1a1a1a")))
    annotations.append(dict(x=SCALE_TEXT_TIME, y=SCALE_TEXT_Y, xref=xa, yref=ya, text="<b>0.02 cm/s</b>",
                            showarrow=False, xanchor="left", yanchor="middle",
                            font=dict(family=FONT, size=15, color="#1a1a1a")))
    cx = (DOMAINS[p][0] + DOMAINS[p][1]) / 2
    annotations.append(dict(x=cx, y=1.026, xref="paper", yref="paper", text=COMPONENTS[p],
                            showarrow=False, xanchor="center", yanchor="middle",
                            font=dict(family=FONT, size=16, color="#1a1a1a")))
    annotations.append(dict(x=cx, y=-0.0455, xref="paper", yref="paper", text="Time (s)",
                            showarrow=False, xanchor="center", yanchor="middle",
                            font=dict(family=FONT, size=16, color="#1a1a1a")))

annotations.append(dict(x=0.4913, y=1.052, xref="paper", yref="paper",
                        text="M<sub>w</sub> 5.0 earthquake, Filter: 4 − 15 s",
                        showarrow=False, xanchor="center", yanchor="middle",
                        font=dict(family=FONT, size=15, color="#1a1a1a")))
annotations.append(dict(x=-0.0462, y=0.5317, xref="paper", yref="paper",
                        text="Distance to N.IW2H station (km)", textangle=-90,
                        showarrow=False, xanchor="center", yanchor="middle",
                        font=dict(family=FONT, size=14.5, color="#1a1a1a")))

axis_common = dict(showline=True, linecolor="black", linewidth=1, mirror="ticks",
                   ticks="inside", ticklen=7, tickwidth=1, tickcolor="black",
                   showgrid=False, zeroline=False,
                   tickfont=dict(family=FONT, size=16, color="#1a1a1a"))
layout = dict(
    width=1140, height=789, paper_bgcolor="white", plot_bgcolor="white",
    margin=dict(l=65, r=37, t=52, b=44),
    annotations=annotations,
    legend=dict(x=0.5039, y=0.2825, xanchor="left", yanchor="top",
                bgcolor="white", bordercolor="black", borderwidth=1,
                font=dict(family=FONT, size=15, color="#1a1a1a"),
                itemwidth=42, tracegroupgap=0),
    font=dict(family=FONT),
)
for p in range(3):
    xk = "xaxis" if p == 0 else "xaxis%d" % (p + 1)
    yk = "yaxis" if p == 0 else "yaxis%d" % (p + 1)
    layout[xk] = dict(axis_common, domain=DOMAINS[p], range=[0, T_MAX], tickvals=TIME_TICKS,
                      anchor="y" if p == 0 else "y%d" % (p + 1))
    ydict = dict(axis_common, range=[40, 175], tickvals=DIST_TICKS,
                 anchor="x" if p == 0 else "x%d" % (p + 1))
    if p == 1:
        ydict["showticklabels"] = False
    if p == 2:
        ydict["side"] = "right"
    layout[yk] = ydict

fig.update_layout(**layout)
fig.write_html("out.html")
